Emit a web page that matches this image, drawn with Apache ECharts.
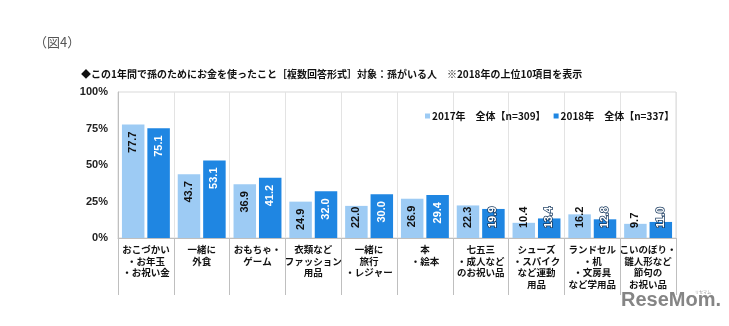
<!DOCTYPE html>
<html>
<head>
<meta charset="utf-8">
<script src="https://cdn.jsdelivr.net/npm/echarts@6/dist/echarts.min.js"></script>
<style>
  html, body { margin: 0; padding: 0; background: #fff; }
  #chart { width: 729px; height: 326px; }
</style>
</head>
<body>
<div id="chart"></div>
<script>
// Spending on grandchildren in the past year (multiple answers), top 10 items of 2018
const categories = [
  'おこづかい\n・お年玉\n・お祝い金',
  '一緒に\n外食',
  'おもちゃ・\nゲーム',
  '衣類など\nファッション\n用品',
  '一緒に\n旅行\n・レジャー',
  '本\n・絵本',
  '七五三\n・成人など\nのお祝い品',
  'シューズ\n・スパイク\nなど運動\n用品',
  'ランドセル\n・机\n・文房具\nなど学用品',
  'こいのぼり・\n雛人形など\n節句の\nお祝い品'
];
const values2017 = [77.7, 43.7, 36.9, 24.9, 22.0, 26.9, 22.3, 10.4, 16.2, 9.7];
const values2018 = [75.1, 53.1, 41.2, 32.0, 30.0, 29.4, 19.9, 13.4, 12.8, 11.0];
const seriesNames = ['2017年　全体【n=309】', '2018年　全体【n=337】'];
const yTicks = [0, 25, 50, 75, 100];

const JP = '"Noto Sans CJK JP", "Noto Sans", sans-serif';
const NUM = '"Liberation Sans", Arial, sans-serif';

// Value labels sit just inside the top of the bar; short bars keep them near the base,
// and light text that pokes out above a short bar gets a dark outline to stay readable
function labelled(outline) {
  return function (v) {
    const low = v < 24;
    const label = low
      ? { position: 'insideBottom', align: 'left', distance: 10 }
      : { position: 'insideTop', align: 'right', distance: 7 };
    if (low && outline) {
      label.textBorderColor = '#14365c';
      label.textBorderWidth = 1.5;
    }
    return { value: v, label: label };
  };
}

function makeSeries(name, data, color, textColor, outline) {
  return {
    name: name,
    type: 'bar',
    barWidth: 22.5,
    barGap: '13%',
    data: data.map(labelled(outline)),
    itemStyle: { color: color },
    label: {
      show: true,
      rotate: 90,
      verticalAlign: 'middle',
      formatter: p => p.value.toFixed(1),
      color: textColor,
      fontFamily: NUM,
      fontWeight: 'bold',
      fontSize: 11
    }
  };
}

const chart = echarts.init(document.getElementById('chart'), null, { renderer: 'canvas' });
chart.setOption({
  animation: false,
  backgroundColor: '#ffffff',
  graphic: [
    {
      type: 'text', left: 34, top: 36,
      style: { text: '（図4）', fontFamily: JP, fontSize: 13, fill: '#555' }
    },
    {
      type: 'text', left: 81, top: 69,
      style: {
        text: '◆この1年間で孫のためにお金を使ったこと［複数回答形式］対象：孫がいる人　※2018年の上位10項目を表示',
        fontFamily: JP, fontSize: 10, fontWeight: 'bold', fill: '#111'
      }
    },
    {
      type: 'text', left: 621, top: 290,
      style: {
        text: 'ReseMom.',
        fontFamily: NUM,
        fontSize: 20, fontWeight: 'bold', fill: '#858585'
      }
    },
    {
      type: 'text', left: 695, top: 290,
      style: { text: 'リセマム', fontFamily: JP, fontSize: 4, fill: '#999' }
    }
  ],
  legend: {
    top: 106,
    left: 420,
    itemWidth: 5,
    itemHeight: 5,
    itemGap: 8,
    icon: 'rect',
    textStyle: { fontFamily: JP, fontSize: 10, fontWeight: 'bold', color: '#111', padding: [0, 0, 0, -3] },
    data: seriesNames
  },
  grid: {
    left: 118, right: 53, top: 92, bottom: 88,
    show: true, borderColor: '#D9D9D9', borderWidth: 1
  },
  xAxis: {
    type: 'category',
    data: categories,
    axisLine: { show: true, lineStyle: { color: '#BFBFBF' } },
    axisTick: { show: true, length: 57, lineStyle: { color: '#BFBFBF' } },
    splitLine: { show: true, lineStyle: { color: '#E3E3E3' } },
    axisLabel: {
      interval: 0,
      margin: 6,
      fontFamily: JP,
      fontSize: 9.5,
      fontWeight: 'bold',
      lineHeight: 11.5,
      color: '#111'
    }
  },
  yAxis: {
    type: 'value',
    min: yTicks[0],
    max: yTicks[yTicks.length - 1],
    interval: 25,
    axisLine: { show: true, lineStyle: { color: '#BFBFBF' } },
    axisTick: { show: false },
    splitLine: { show: false },
    axisLabel: {
      margin: 10,
      formatter: '{value}%',
      fontFamily: NUM,
      fontSize: 11,
      fontWeight: 'bold',
      color: '#222'
    }
  },
  series: [
    makeSeries(seriesNames[0], values2017, '#9DCBF4', '#111', false),
    makeSeries(seriesNames[1], values2018, '#1F86E2', '#ffffff', true)
  ]
});
</script>
</body>
</html>
